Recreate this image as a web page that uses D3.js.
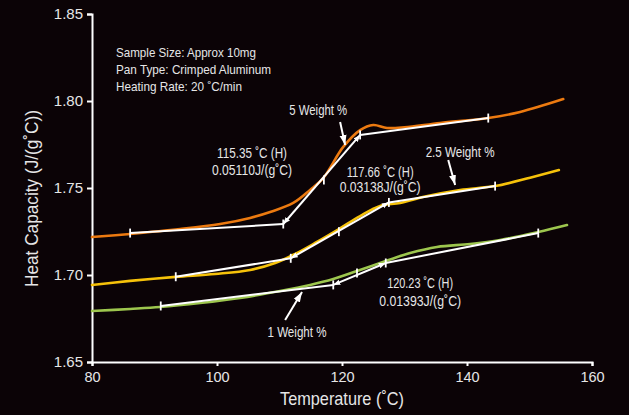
<!DOCTYPE html>
<html><head><meta charset="utf-8">
<script src="https://cdn.jsdelivr.net/npm/d3@7"></script>
<style>
html,body{margin:0;padding:0;background:#0b0306;}
svg{display:block;}
text{font-family:'Liberation Sans Narrow','Arial Narrow','Liberation Sans',Arial,sans-serif;fill:#e6e6e6;}
</style></head>
<body>
<svg id="chart" width="629" height="415"></svg>
<script>
// ---- data ----
const xTicks = [80, 100, 120, 140, 160];
const yTicks = [1.65, 1.70, 1.75, 1.80, 1.85];
const seriesNames = ["5 Weight %", "2.5 Weight %", "1 Weight %"];
const seriesColors = ["#ec7a10", "#f6c20a", "#9dc64e"];
const curve5 = [[80,1.7218],[86.1,1.7236],[94.1,1.7264],[100.5,1.7293],[105.3,1.7328],[108.5,1.7362],[112.2,1.7414],[114.9,1.7489],[117.0,1.7557],[120.2,1.7736],[122.9,1.7833],[125.0,1.7862],[127.2,1.7845],[130.0,1.7849],[135.7,1.7874],[143.4,1.7902],[148.5,1.7937],[155.4,1.8011]];
const curve25 = [[80,1.6943],[86.1,1.6966],[93.4,1.6989],[99.7,1.7006],[105.3,1.7029],[109.3,1.7069],[112.5,1.7121],[115.7,1.7184],[119.5,1.7264],[122.9,1.7339],[126.1,1.7397],[129.3,1.7414],[133.3,1.7451],[138.9,1.7489],[144.5,1.7511],[150.1,1.7559],[154.7,1.7603]];
const curve1 = [[80,1.6793],[86.1,1.6805],[90.9,1.6816],[97.3,1.6839],[103.7,1.6868],[110.1,1.6908],[114.9,1.6943],[118.6,1.6977],[122.4,1.7023],[127.0,1.7080],[130.9,1.7126],[135.2,1.7161],[140.5,1.7178],[145.3,1.7201],[151.4,1.7247],[156.0,1.7287]];
// tangent analysis points: baseline start, onset, midpoint, end, final baseline
const fit5 = [[86.1,1.7241],[110.6,1.7293],[117.1,1.7546],[122.9,1.7805],[143.4,1.7902]];
const fit25 = [[93.4,1.6990],[111.8,1.7096],[119.5,1.7249],[127.5,1.7417],[144.5,1.7511]];
const fit1 = [[91.0,1.6822],[118.6,1.6943],[122.4,1.7011],[127.0,1.7069],[151.4,1.7241]];
const infoLines = ["Sample Size: Approx 10mg", "Pan Type: Crimped Aluminum", "Heating Rate: 20 \u02daC/min"];
const resultLines = [["115.35 \u02daC (H)", "0.05110J/(g\u02daC)"], ["117.66 \u02daC (H)", "0.03138J/(g\u02daC)"], ["120.23 \u02daC (H)", "0.01393J/(g\u02daC)"]];
// label centres (data coords), arrow start/end
const seriesLabelPos = [[116.2,1.7948],[138.9,1.7707],[112.8,1.6672]];
const arrowFrom = [[119.7,1.7879],[137.0,1.7661],[110.9,1.6741]];
const arrowTo = [[120.5,1.7747],[138.1,1.7517],[113.6,1.6902]];
const resultPos = [[105.6,1.7701],[126.1,1.7592],[132.5,1.6954]];

// ---- layout (sizes only) ----
const W = 629, H = 415;
const margin = {left: 92, right: 37, top: 14, bottom: 53};
const infoWidths = [140, 155, 126];
const resultWidths = [[70, 80], [67, 81], [66, 82]];
const resultGap = [17, 15, 18];
const seriesWidths = [58, 69, 59];

const svg = d3.select("#chart");
const x = d3.scaleLinear().domain([80,160]).range([margin.left, W - margin.right]);
const y = d3.scaleLinear().domain([1.65,1.85]).range([H - margin.bottom, margin.top]);

const defs = svg.append("defs");
defs.append("marker")
  .attr("id","ah").attr("viewBox","0 0 10 10").attr("refX",10).attr("refY",5)
  .attr("markerWidth",7).attr("markerHeight",7).attr("markerUnits","userSpaceOnUse")
  .attr("orient","auto-start-reverse")
  .append("path").attr("d","M0,1 L10,5 L0,9 Z").attr("fill","#fff");
defs.append("marker")
  .attr("id","ahBig").attr("viewBox","0 0 10 10").attr("refX",10).attr("refY",5)
  .attr("markerWidth",10).attr("markerHeight",10).attr("markerUnits","userSpaceOnUse")
  .attr("orient","auto")
  .append("path").attr("d","M0,1.5 L10,5 L0,8.5 Z").attr("fill","#fff");

// axes
const xAxis = d3.axisBottom(x).tickValues(xTicks).tickSize(4).tickFormat(d3.format("d"));
const yAxis = d3.axisLeft(y).tickValues(yTicks).tickSize(5).tickFormat(d3.format(".2f"));
const gx = svg.append("g").attr("transform",`translate(0,${H-margin.bottom})`).call(xAxis);
const gy = svg.append("g").attr("transform",`translate(${margin.left},0)`).call(yAxis);
[gx,gy].forEach(g=>{
  g.selectAll("path.domain").attr("stroke","#fff").attr("stroke-width",2);
  g.selectAll(".tick line").attr("stroke","#fff").attr("stroke-width",2);
  g.selectAll(".tick text").attr("fill","#e0e0e0")
   .style("font-family","'Liberation Sans Narrow','Arial Narrow','Liberation Sans',Arial,sans-serif");
});
gx.selectAll(".tick text").attr("y",10).style("font-size","14.5px");
gy.selectAll(".tick text").attr("x",-9).style("font-size","15px");

svg.append("text").attr("x",x(120)).attr("y",405).attr("text-anchor","middle")
  .style("font-size","19px").attr("textLength",124).attr("lengthAdjust","spacingAndGlyphs")
  .text("Temperature (\u02daC)");
svg.append("text").attr("transform",`translate(37.5,198.5) rotate(-90)`).attr("text-anchor","middle")
  .style("font-size","19px").attr("textLength",177).attr("lengthAdjust","spacingAndGlyphs")
  .text("Heat Capacity (J/(g\u02daC))");

// curves
const line = d3.line().x(d=>x(d[0])).y(d=>y(d[1])).curve(d3.curveCatmullRom.alpha(0.5));
[curve5, curve25, curve1].forEach((c,i)=>{
  svg.append("path").datum(c).attr("d",line).attr("fill","none")
    .attr("stroke",seriesColors[i]).attr("stroke-width",2.6).attr("stroke-linecap","round");
});

// tangent lines
const straight = d3.line().x(d=>x(d[0])).y(d=>y(d[1]));
[fit5, fit25, fit1].forEach(f=>{
  svg.append("path").datum([f[0],f[1]]).attr("d",straight).attr("stroke","#fff").attr("stroke-width",2).attr("fill","none");
  svg.append("path").datum([f[3],f[4]]).attr("d",straight).attr("stroke","#fff").attr("stroke-width",2).attr("fill","none");
  svg.append("path").datum([f[1],f[3]]).attr("d",straight).attr("stroke","#fff").attr("stroke-width",2).attr("fill","none")
    .attr("marker-start","url(#ah)").attr("marker-end","url(#ah)");
  svg.selectAll(null).data(f).enter().append("line")
    .attr("x1",d=>x(d[0])).attr("x2",d=>x(d[0]))
    .attr("y1",d=>y(d[1])-4.5).attr("y2",d=>y(d[1])+4.5)
    .attr("stroke","#fff").attr("stroke-width",1.8);
});

// series labels and arrows
seriesNames.forEach((n,i)=>{
  svg.append("text").attr("x",x(seriesLabelPos[i][0])).attr("y",y(seriesLabelPos[i][1])+5)
    .attr("text-anchor","middle").style("font-size","14px")
    .attr("textLength",seriesWidths[i]).attr("lengthAdjust","spacingAndGlyphs").text(n);
  svg.append("line").attr("x1",x(arrowFrom[i][0])).attr("y1",y(arrowFrom[i][1]))
    .attr("x2",x(arrowTo[i][0])).attr("y2",y(arrowTo[i][1]))
    .attr("stroke","#fff").attr("stroke-width",2).attr("marker-end","url(#ahBig)");
});

// result annotations
resultLines.forEach((r,i)=>{
  const cx = x(resultPos[i][0]), cy = y(resultPos[i][1]) + 4.9;
  r.forEach((s,j)=>{
    svg.append("text").attr("text-anchor","middle").style("font-size","14px")
      .attr("x",cx).attr("y",cy + j*resultGap[i])
      .attr("textLength",resultWidths[i][j]).attr("lengthAdjust","spacingAndGlyphs").text(s);
  });
});

// info text
infoLines.forEach((s,i)=>{
  svg.append("text").attr("x",116).attr("y",57+i*17.2).style("font-size","13px")
    .attr("textLength",infoWidths[i]).attr("lengthAdjust","spacingAndGlyphs").text(s);
});
</script>
</body></html>
